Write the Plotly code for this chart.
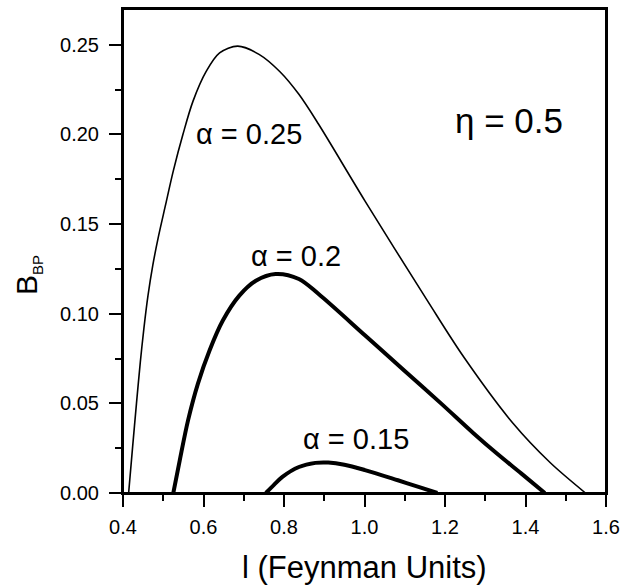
import plotly.graph_objects as go

# alpha = 0.25 (thin curve)
l_a025 = [0.414, 0.424, 0.4335, 0.443, 0.452, 0.462, 0.474, 0.488, 0.505, 0.525, 0.549, 0.574, 0.607, 0.640, 0.685, 0.738, 0.790, 0.837, 0.886, 1.001, 1.157, 1.247, 1.370, 1.461, 1.549]
b_a025 = [0.0, 0.026, 0.050, 0.073, 0.092, 0.110, 0.127, 0.143, 0.160, 0.1797, 0.2001, 0.2186, 0.2353, 0.2455, 0.2493, 0.2447, 0.2350, 0.2224, 0.2057, 0.1630, 0.1070, 0.0757, 0.0386, 0.0170, 0.0]

# alpha = 0.2 (thick curve)
l_a020 = [0.525, 0.541, 0.5616, 0.586, 0.615, 0.648, 0.689, 0.730, 0.779, 0.837, 0.886, 1.001, 1.100, 1.190, 1.270, 1.329, 1.390, 1.448]
b_a020 = [0.0, 0.0182, 0.0405, 0.0609, 0.0795, 0.0962, 0.1101, 0.1184, 0.1222, 0.1194, 0.1110, 0.0880, 0.0680, 0.0500, 0.0335, 0.0220, 0.0108, 0.0]

# alpha = 0.15 (thick curve)
l_a015 = [0.755, 0.775, 0.796, 0.837, 0.878, 0.910, 0.950, 1.001, 1.083, 1.140, 1.181]
b_a015 = [0.0, 0.0045, 0.0090, 0.0145, 0.0168, 0.0170, 0.0158, 0.0128, 0.0071, 0.0030, 0.0]

x_ticks = [0.4, 0.6, 0.8, 1.0, 1.2, 1.4, 1.6]
x_ticklabels = ["0.4", "0.6", "0.8", "1.0", "1.2", "1.4", "1.6"]
y_ticks = [0.00, 0.05, 0.10, 0.15, 0.20, 0.25]
y_ticklabels = ["0.00", "0.05", "0.10", "0.15", "0.20", "0.25"]

FONT = "Liberation Sans, Arial, Helvetica, sans-serif"

fig = go.Figure()
for xs, ys, w in [(l_a025, b_a025, 1.6), (l_a020, b_a020, 4), (l_a015, b_a015, 4)]:
    fig.add_trace(go.Scatter(x=xs, y=ys, mode="lines",
                             line=dict(color="black", width=w, shape="spline", smoothing=0.9),
                             showlegend=False, hoverinfo="skip"))

axis_common = dict(showline=True, linecolor="black", linewidth=2, mirror=True,
                   ticks="outside", ticklen=12, tickwidth=2, tickcolor="black",
                   showgrid=False, zeroline=False,
                   tickfont=dict(family=FONT, size=20, color="black"))

fig.update_xaxes(range=[0.4, 1.6], tickvals=x_ticks, ticktext=x_ticklabels,
                 minor=dict(ticks="outside", ticklen=6, tickwidth=2, tickcolor="black", dtick=0.1, showgrid=False),
                 ticklabelstandoff=3, **axis_common)
fig.update_yaxes(range=[0, 0.27], tickvals=y_ticks, ticktext=y_ticklabels,
                 minor=dict(ticks="outside", ticklen=6, tickwidth=2, tickcolor="black", dtick=0.025, showgrid=False),
                 ticklabelstandoff=6, **axis_common)

# plot frame
fig.add_shape(type="rect", xref="paper", yref="paper", x0=0, y0=0, x1=1, y1=1,
              line=dict(color="black", width=2), layer="above")

ann_font = dict(family=FONT, size=29, color="black")
fig.add_annotation(x=0.7135, y=0.2003, text="α = 0.25", showarrow=False, font=ann_font,
                   xanchor="center", yanchor="middle")
fig.add_annotation(x=0.8286, y=0.1323, text="α = 0.2", showarrow=False, font=ann_font,
                   xanchor="center", yanchor="middle")
fig.add_annotation(x=0.9795, y=0.0299, text="α = 0.15", showarrow=False, font=ann_font,
                   xanchor="center", yanchor="middle")
fig.add_annotation(x=1.359, y=0.208, text="η = 0.5", showarrow=False,
                   font=dict(family=FONT, size=35, color="black"),
                   xanchor="center", yanchor="middle")

# axis titles
fig.add_annotation(xref="paper", yref="paper", x=0.5007, y=-0.153, text="l (Feynman Units)",
                   showarrow=False, font=dict(family=FONT, size=31, color="black"),
                   xanchor="center", yanchor="middle")
fig.add_annotation(xref="paper", yref="paper", x=-0.198, y=0.451,
                   text="B<sub><span style=\"font-size:15px\">BP</span></sub>",
                   textangle=-90, showarrow=False, font=dict(family=FONT, size=30, color="black"),
                   xanchor="center", yanchor="middle")

fig.update_layout(width=627, height=588, paper_bgcolor="white", plot_bgcolor="white",
                  margin=dict(l=123, r=17, t=7, b=95), showlegend=False)

fig.write_html("out.html", config={"displayModeBar": False},
               post_script="document.body.style.margin='0';")
